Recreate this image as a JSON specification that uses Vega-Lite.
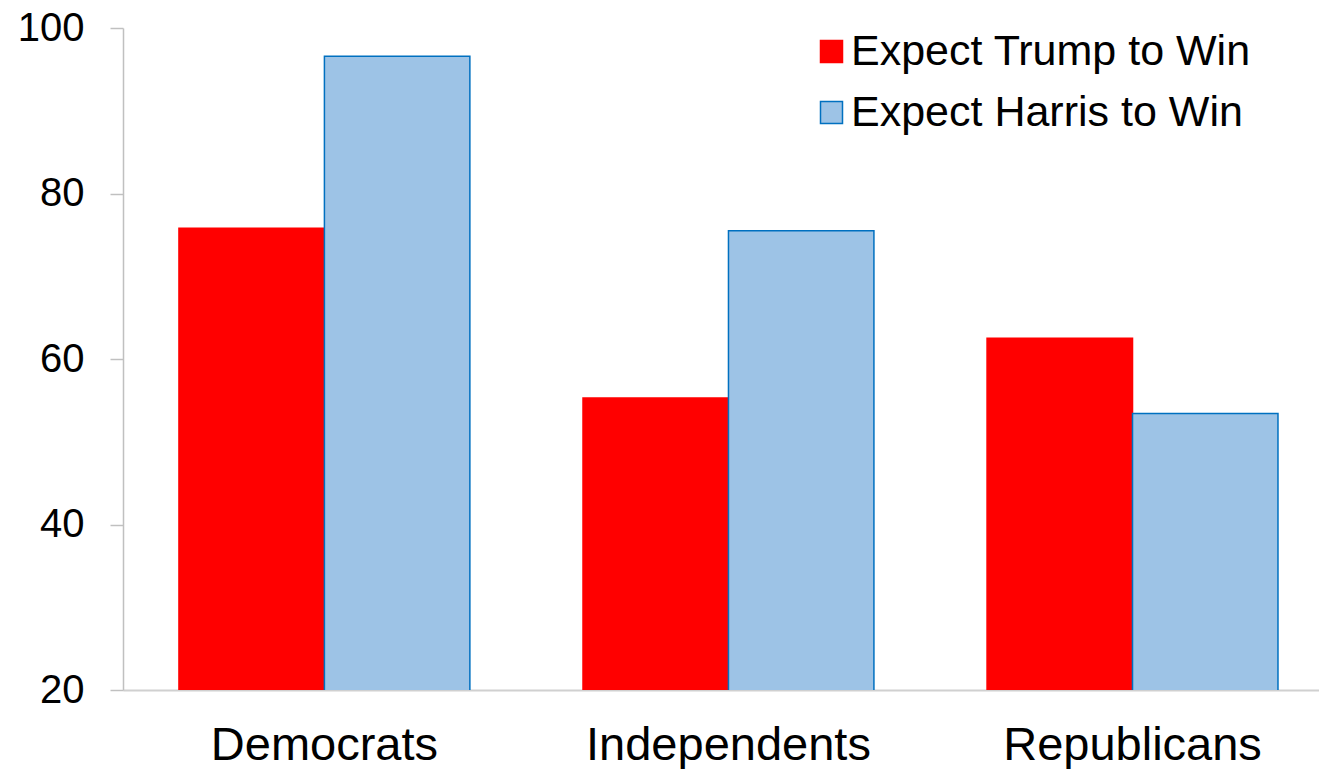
{
  "$schema": "https://vega.github.io/schema/vega-lite/v6.json",
  "autosize": "none",
  "width": 1196,
  "height": 662,
  "padding": {"left": 123, "top": 28, "right": 0, "bottom": 79},
  "background": "white",
  "config": {
    "font": "Liberation Sans",
    "view": {"stroke": null}
  },
  "data": {
    "values": [
      {"party": "Democrats", "series": "Expect Trump to Win", "pct": 75.8},
      {"party": "Democrats", "series": "Expect Harris to Win", "pct": 96.6},
      {"party": "Independents", "series": "Expect Trump to Win", "pct": 55.3},
      {"party": "Independents", "series": "Expect Harris to Win", "pct": 75.5},
      {"party": "Republicans", "series": "Expect Trump to Win", "pct": 62.5},
      {"party": "Republicans", "series": "Expect Harris to Win", "pct": 53.4}
    ]
  },
  "mark": {"type": "bar", "strokeWidth": 1.5, "clip": true},
  "encoding": {
    "x": {
      "field": "party",
      "type": "nominal",
      "sort": ["Democrats", "Independents", "Republicans"],
      "scale": {"paddingInner": 0.28, "paddingOuter": 0.12, "align": 0.577},
      "axis": {
        "title": null,
        "labelAngle": 0,
        "labelFontSize": 47,
        "labelColor": "#000000",
        "labelPadding": 32,
        "labelLimit": 600,
        "ticks": false,
        "domainColor": "#d0d0d0",
        "domainWidth": 2
      }
    },
    "xOffset": {
      "field": "series",
      "type": "nominal",
      "sort": ["Expect Trump to Win", "Expect Harris to Win"],
      "scale": {"paddingInner": 0, "paddingOuter": 0}
    },
    "y": {
      "field": "pct",
      "type": "quantitative",
      "scale": {"domain": [20, 100], "nice": false, "zero": false},
      "axis": {
        "title": null,
        "values": [20, 40, 60, 80, 100],
        "grid": false,
        "labelFontSize": 40,
        "labelColor": "#000000",
        "labelPadding": 26,
        "tickSize": 13,
        "tickColor": "#c0c0c0",
        "tickWidth": 1.5,
        "domainColor": "#c0c0c0",
        "domainWidth": 1.5
      }
    },
    "fill": {
      "field": "series",
      "type": "nominal",
      "sort": ["Expect Trump to Win", "Expect Harris to Win"],
      "scale": {"range": ["#ff0000", "#9dc3e6"]},
      "legend": {
        "title": null,
        "orient": "none",
        "legendX": 687,
        "legendY": 2,
        "symbolType": "square",
        "symbolSize": 484,
        "symbolStrokeWidth": 1.5,
        "symbolOpacity": 1,
        "labelFontSize": 43,
        "labelColor": "#000000",
        "labelOffset": -2,
        "rowPadding": 17,
        "labelLimit": 600,
        "encode": {
          "symbols": {
            "update": {
              "stroke": {"signal": "datum.label === 'Expect Harris to Win' ? '#0070c0' : '#ff0000'"}
            }
          }
        }
      }
    },
    "stroke": {
      "field": "series",
      "type": "nominal",
      "sort": ["Expect Trump to Win", "Expect Harris to Win"],
      "scale": {"range": ["#ff0000", "#0070c0"]},
      "legend": null
    }
  }
}
